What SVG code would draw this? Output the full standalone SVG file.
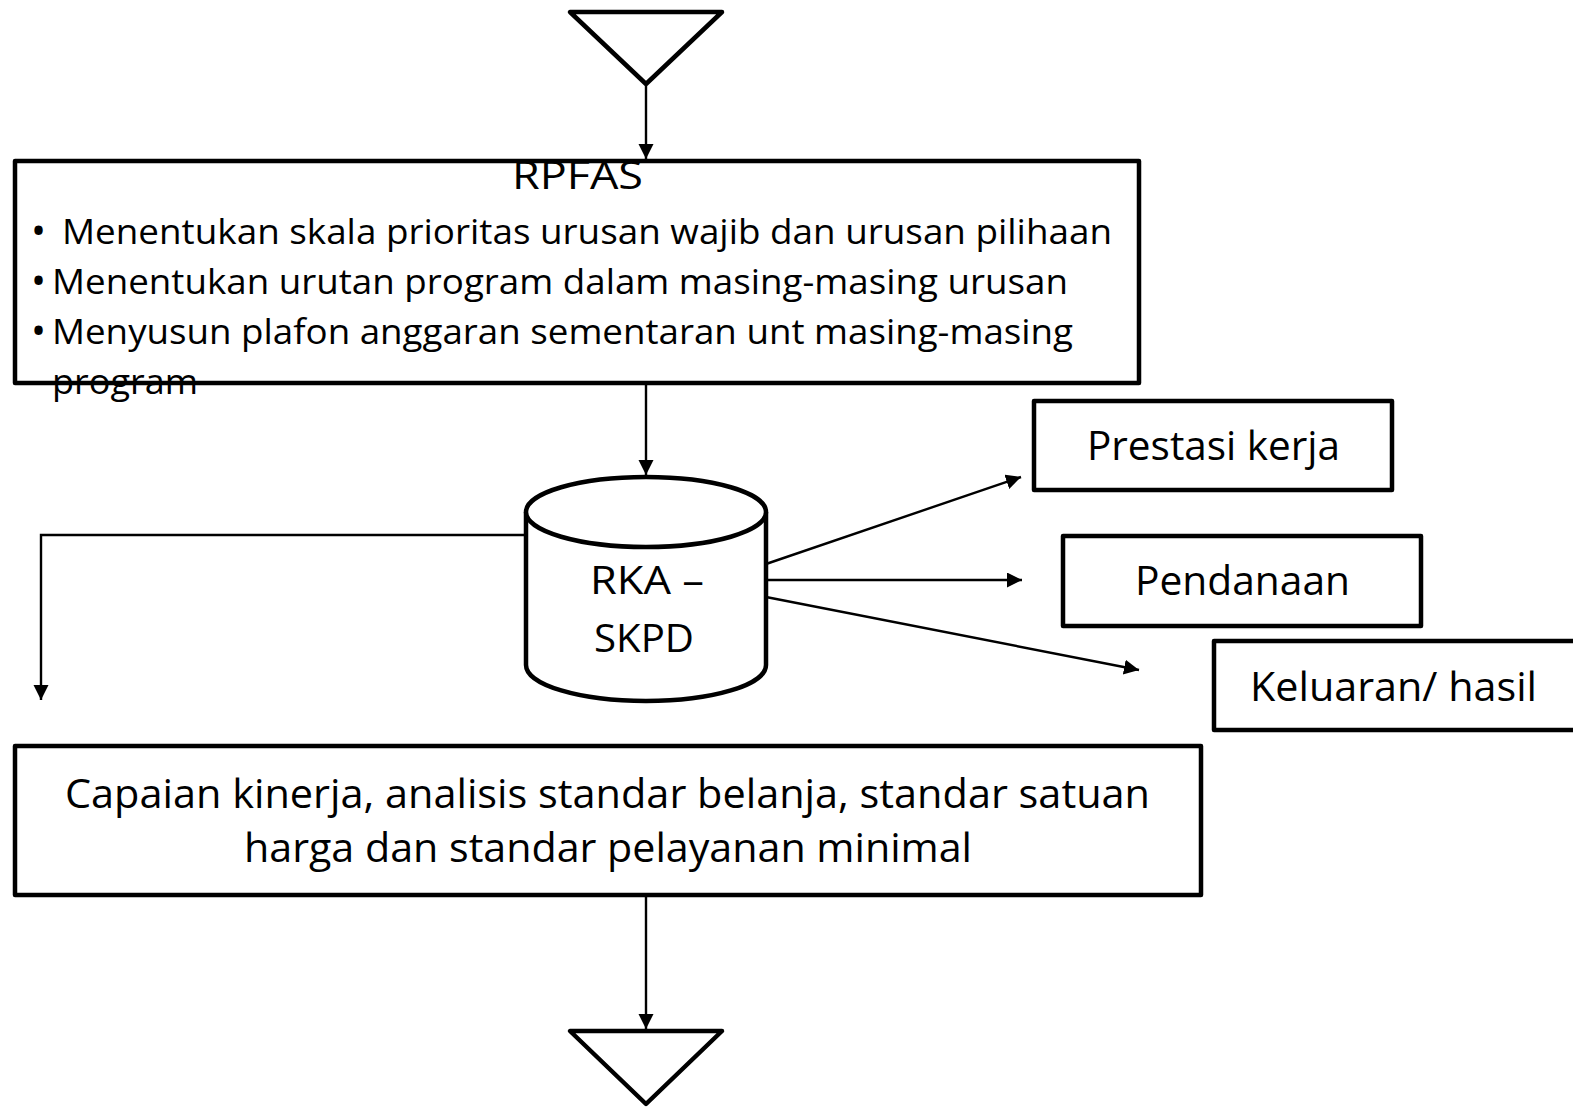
<svg xmlns="http://www.w3.org/2000/svg" width="1573" height="1108" viewBox="0 0 1573 1108">
  <style>
    .shape { fill: #ffffff; stroke: #000000; stroke-width: 4.5; stroke-linejoin: round; }
    .edge { fill: none; stroke: #000000; stroke-width: 2.4; }
    text { font-family: "Open Sans", "Noto Sans", "Liberation Sans", sans-serif; fill: #000000; }
    .bul { font-size: 35px; }
    .dot { font-size: 40px; }
    .title { font-size: 39px; }
    .lbl { font-size: 40px; }
  </style>
  <defs>
    <marker id="arrow" markerUnits="userSpaceOnUse" markerWidth="18" markerHeight="18" refX="15" refY="7.5" orient="auto">
      <path d="M0,0 L15,7.5 L0,15 Z" fill="#000000"/>
    </marker>
  </defs>

  <!-- start terminator -->
  <g id="start">
    <path class="shape" d="M570,12 L722,12 L646,84 Z"/>
  </g>

  <!-- priority & budget ceiling box -->
  <g id="rpfas">
    <rect class="shape" x="15" y="161" width="1124" height="222"/>
    <text class="title" x="512" y="189" textLength="131" lengthAdjust="spacingAndGlyphs">RPFAS</text>
    <text class="dot" x="31" y="245">•</text>
    <text class="bul" x="62" y="244" textLength="1050" lengthAdjust="spacingAndGlyphs">Menentukan skala prioritas urusan wajib dan urusan pilihaan</text>
    <text class="dot" x="31" y="295">•</text>
    <text class="bul" x="52" y="294" textLength="1016" lengthAdjust="spacingAndGlyphs">Menentukan urutan program dalam masing-masing urusan</text>
    <text class="dot" x="31" y="345">•</text>
    <text class="bul" x="52" y="344" textLength="1021" lengthAdjust="spacingAndGlyphs">Menyusun plafon anggaran sementaran unt masing-masing</text>
    <text class="bul" x="52" y="394" textLength="146" lengthAdjust="spacingAndGlyphs">program</text>
  </g>

  <!-- RKA-SKPD data store -->
  <g id="rka-skpd">
    <path class="shape" d="M526,512 A120,35 0 0 1 766,512 L766,665 A120,36 0 0 1 526,665 Z"/>
    <path class="shape" fill="none" d="M526,512 A120,35 0 0 0 766,512"/>
    <text class="title" x="590" y="594" textLength="114" lengthAdjust="spacingAndGlyphs">RKA –</text>
    <text class="title" x="594" y="652" textLength="100" lengthAdjust="spacingAndGlyphs">SKPD</text>
  </g>

  <g id="prestasi">
    <rect class="shape" x="1034" y="401" width="358" height="89"/>
    <text class="lbl" x="1087" y="460" textLength="253" lengthAdjust="spacingAndGlyphs">Prestasi kerja</text>
  </g>

  <g id="pendanaan">
    <rect class="shape" x="1063" y="536" width="358" height="90"/>
    <text class="lbl" x="1135" y="595" textLength="215" lengthAdjust="spacingAndGlyphs">Pendanaan</text>
  </g>

  <g id="keluaran">
    <rect class="shape" x="1214" y="641" width="400" height="89"/>
    <text class="lbl" x="1250" y="701" textLength="287" lengthAdjust="spacingAndGlyphs">Keluaran/ hasil</text>
  </g>

  <!-- standards box -->
  <g id="standar">
    <rect class="shape" x="15" y="746" width="1186" height="149"/>
    <text class="lbl" x="65" y="808" textLength="1085" lengthAdjust="spacingAndGlyphs">Capaian kinerja, analisis standar belanja, standar satuan</text>
    <text class="lbl" x="244" y="862" textLength="728" lengthAdjust="spacingAndGlyphs">harga dan standar pelayanan minimal</text>
  </g>

  <!-- end terminator -->
  <g id="end">
    <path class="shape" d="M570,1031 L722,1031 L646,1104 Z"/>
  </g>

  <!-- connectors -->
  <g id="connectors">
    <line class="edge" x1="646" y1="86" x2="646" y2="159" marker-end="url(#arrow)"/>
    <line class="edge" x1="646" y1="385" x2="646" y2="475" marker-end="url(#arrow)"/>
    <polyline class="edge" points="526,535 41,535 41,700" marker-end="url(#arrow)"/>
    <line class="edge" x1="766" y1="564" x2="1021" y2="477" marker-end="url(#arrow)"/>
    <line class="edge" x1="766" y1="580" x2="1022" y2="580" marker-end="url(#arrow)"/>
    <line class="edge" x1="766" y1="597" x2="1139" y2="670" marker-end="url(#arrow)"/>
    <line class="edge" x1="646" y1="897" x2="646" y2="1029" marker-end="url(#arrow)"/>
  </g>
</svg>
